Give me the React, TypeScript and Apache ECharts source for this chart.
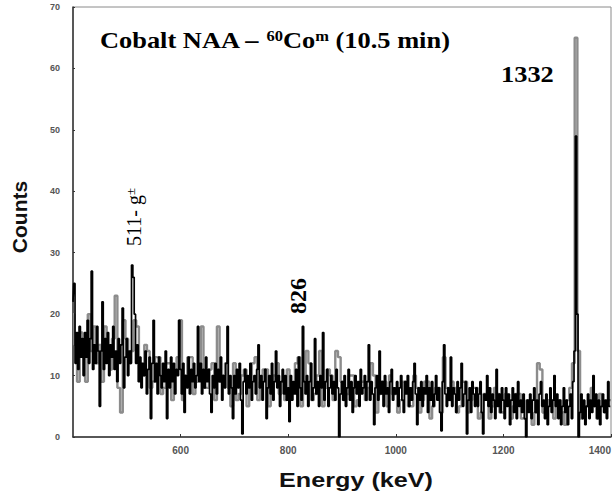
import React, { useEffect, useRef } from "react";
import * as echarts from "echarts";

// Spectrum channels (black trace), 2.5 keV per channel starting at 400 keV
const blackStartKeV = 400;
const blackStepKeV = 2.5;
const blackCounts = [
  22, 25, 12, 17, 11, 18, 13, 16, 10, 17, 13, 19, 12, 16, 27, 11, 15, 12, 18, 14,
  5, 14, 22, 11, 16, 12, 17, 10, 15, 13, 18, 11, 14, 9, 16, 12, 15, 21, 8, 13,
  16, 10, 14, 12, 28, 26, 20, 12, 15, 9, 13, 8, 12, 10, 14, 7, 11, 13, 3, 12,
  19, 9, 12, 7, 13, 10, 8, 12, 9, 14, 3, 11, 8, 13, 9, 12, 7, 11, 10, 19,
  11, 7, 12, 4, 10, 8, 13, 7, 11, 9, 12, 8, 10, 18, 9, 12, 7, 11, 8, 13,
  9, 11, 7, 4, 10, 8, 12, 7, 11, 9, 13, 6, 10, 8, 12, 18, 7, 10, 8, 3,
  10, 7, 11, 8, 12, 6, 0.5, 9, 11, 7, 10, 8, 12, 6, 9, 10, 7, 11, 15, 8,
  10, 6, 9, 11, 3, 8, 10, 7, 12, 6, 9, 14, 8, 10, 5, 9, 11, 7, 10, 6,
  8, 2.5, 10, 6, 9, 7, 11, 5, 13, 8, 6, 18, 9, 7, 10, 5, 9, 12, 6, 8,
  16, 7, 9, 5, 10, 8, 17, 6, 9, 11, 5, 8, 10, 7, 9, 6, 11, 8, 0, 7,
  9, 6, 10, 5, 8, 11, 6, 9, 4, 8, 10, 7, 9, 5, 11, 7, 8, 10, 6, 9,
  15, 6, 9, 7, 2, 8, 10, 6, 14, 7, 9, 5, 10, 7, 8, 4, 9, 11, 6, 8,
  7, 9, 5, 8, 10, 6, 4, 9, 7, 10, 5, 8, 6, 9, 12, 7, 2, 8, 6, 9,
  5, 8, 7, 10, 4, 8, 6, 9, 5, 7, 10, 6, 8, 4, 1, 9, 15, 7, 5, 8,
  6, 13, 5, 8, 7, 4, 9, 6, 8, 12, 5, 7, 9, 0.5, 6, 8, 4, 9, 7, 5,
  8, 5, 7, 9, 4, 0.5, 7, 6, 10, 5, 8, 4, 7, 6, 3, 11, 5, 7, 4, 8,
  6, 3, 8, 5, 7, 2, 6, 8, 4, 7, 3, 9, 5, 6, 4, 7, 3, 0, 6, 4,
  7, 3, 6, 8, 4, 6, 2, 7, 9, 5, 6, 3, 7, 2, 5, 8, 4, 6, 10, 5,
  7, 3, 6, 2, 5, 8, 4, 6, 2, 5, 7, 3, 9, 14, 49, 20, 0, 4, 7, 3,
  6, 2, 5, 7, 3, 6, 4, 10, 5, 7, 3, 6, 2, 5, 7, 4, 6, 3, 9, 5,
  5,
];

// Gray trace, 5 keV per channel starting at 400 keV
const grayStartKeV = 400;
const grayStepKeV = 5;
const grayCounts = [
  20, 15, 9, 17, 13, 9, 20, 14, 18, 12, 15, 9, 18, 13, 11, 16, 23, 8, 4, 19,
  16, 12, 14, 19, 18, 12, 10, 15, 14, 8, 9, 13, 13, 7, 8, 12, 12, 6, 10, 13,
  19, 6, 10, 13, 13, 7, 9, 12, 18, 8, 8, 11, 12, 6, 18, 9, 10, 12, 8, 5,
  12, 6, 7, 10, 11, 5, 8, 12, 13, 6, 9, 11, 11, 5, 8, 10, 12, 7, 9, 6,
  11, 7, 8, 12, 13, 5, 9, 14, 12, 6, 7, 10, 14, 5, 8, 11, 10, 6, 14, 13,
  9, 6, 7, 10, 10, 5, 6, 9, 9, 6, 8, 12, 10, 4, 7, 9, 9, 5, 10, 7,
  7, 4, 6, 9, 9, 5, 5, 10, 8, 4, 6, 9, 9, 3, 5, 8, 8, 4, 13, 8,
  6, 9, 8, 4, 5, 9, 9, 4, 6, 8, 8, 3, 4, 7, 7, 3, 5, 8, 7, 4,
  4, 7, 6, 3, 5, 7, 7, 3, 3, 6, 6, 2, 4, 12, 11, 4, 5, 6, 6, 3,
  5, 6, 4, 2, 6, 8, 12, 65, 14, 3, 4, 5, 6, 8, 5, 3, 7, 5, 4, 6,
  6,
];

const xTicks = [400, 600, 800, 1000, 1200, 1400];
const yTicks = [0, 10, 20, 30, 40, 50, 60, 70];

const SERIF = '"Liberation Serif", "Times New Roman", serif';
const SANS = '"Liberation Sans", Arial, sans-serif';

export default function App() {
  const ref = useRef<HTMLDivElement>(null);
  useEffect(() => {
    if (!ref.current) return;
    const chart = echarts.init(ref.current, undefined, { renderer: "svg" });
    const blackData = blackCounts.map((v, i) => [blackStartKeV + i * blackStepKeV, v]);
    const grayData = grayCounts.map((v, i) => [grayStartKeV + i * grayStepKeV, v]);
    chart.setOption({
      animation: false,
      grid: {
        left: 73,
        right: 2,
        top: 7,
        bottom: 55,
        show: true,
        borderColor: "#8a8a8a",
        borderWidth: 1,
      },
      xAxis: {
        type: "value",
        min: xTicks[0],
        max: xTicks[xTicks.length - 1],
        interval: xTicks[1] - xTicks[0],
        axisLine: { lineStyle: { color: "#333", width: 1.5 } },
        axisTick: { inside: true, length: 3, lineStyle: { color: "#333" } },
        axisLabel: {
          showMinLabel: false,
          alignMaxLabel: "right",
          margin: 8,
          fontSize: 10,
          fontFamily: SANS,
          fontWeight: "bold",
          color: "#555",
          formatter: (v: number) => String(v),
        },
        splitLine: { show: false },
      },
      yAxis: {
        type: "value",
        min: yTicks[0],
        max: yTicks[yTicks.length - 1],
        interval: yTicks[1] - yTicks[0],
        axisLine: { show: true, lineStyle: { color: "#333", width: 1.5 } },
        axisTick: { show: true, inside: true, length: 2, lineStyle: { color: "#333" } },
        axisLabel: {
          margin: 13,
          fontSize: 9,
          fontFamily: SANS,
          fontWeight: "bold",
          color: "#555",
        },
        splitLine: { show: false },
      },
      series: [
        {
          type: "line",
          data: grayData,
          step: "middle",
          symbol: "none",
          lineStyle: { color: "#8c8c8c", width: 2.4 },
          z: 1,
        },
        {
          type: "line",
          data: blackData,
          step: "middle",
          symbol: "none",
          lineStyle: { color: "#000", width: 1.7 },
          z: 2,
        },
      ],
      graphic: [
        {
          type: "text",
          x: 100,
          y: 28,
          scaleX: 1.1,
          style: {
            text: "{n|Cobalt NAA – }{s|60}{n|Co}{s|m}{n| (10.5 min)}",
            rich: {
              n: { fontFamily: SERIF, fontWeight: "bold", fontSize: 24, fill: "#000" },
              s: { fontFamily: SERIF, fontWeight: "bold", fontSize: 15, fill: "#000", verticalAlign: "top" },
            },
            fill: "#000",
          },
        },
        {
          type: "text",
          x: 501,
          y: 62,
          scaleX: 1.1,
          style: {
            text: "1332",
            font: `bold 24px ${SERIF}`,
            fill: "#000",
          },
        },
        {
          type: "text",
          x: 134,
          y: 246,
          rotation: Math.PI / 2,
          style: {
            text: "{n|511- g}{s|±}",
            rich: {
              n: { fontFamily: SERIF, fontSize: 20, fill: "#000" },
              s: { fontFamily: SERIF, fontSize: 13, fill: "#000", verticalAlign: "top" },
            },
            align: "left",
            verticalAlign: "middle",
          },
        },
        {
          type: "text",
          x: 298,
          y: 314,
          rotation: Math.PI / 2,
          style: {
            text: "826",
            font: `bold 24px ${SERIF}`,
            fill: "#000",
            align: "left",
            verticalAlign: "middle",
          },
        },
        {
          type: "text",
          x: 19,
          y: 217,
          rotation: Math.PI / 2,
          style: {
            text: "Counts",
            font: `bold 21px ${SANS}`,
            fill: "#111",
            align: "center",
            verticalAlign: "middle",
          },
        },
        {
          type: "text",
          x: 356,
          y: 480,
          scaleX: 1.2,
          style: {
            text: "Energy (keV)",
            font: `bold 21px ${SANS}`,
            fill: "#111",
            align: "center",
            verticalAlign: "middle",
          },
        },
      ],
    });
    return () => chart.dispose();
  }, []);
  return (
    <div
      ref={ref}
      style={{ position: "absolute", left: 0, top: 0, width: 614, height: 492 }}
    />
  );
}
